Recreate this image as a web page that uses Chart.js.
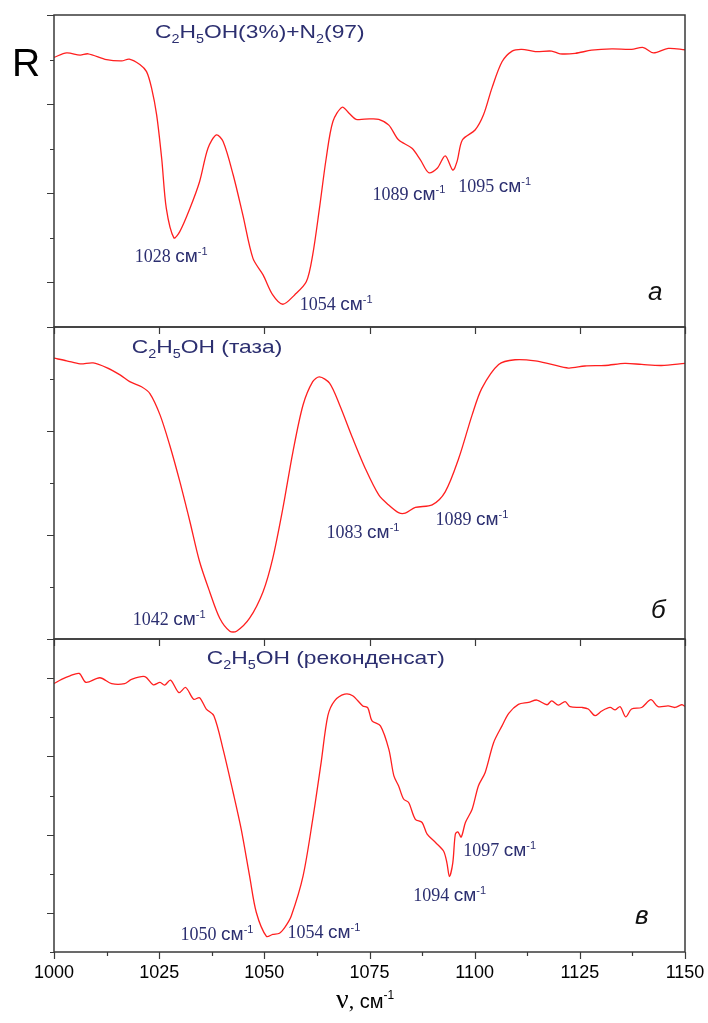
<!DOCTYPE html>
<html lang="ru">
<head>
    <meta charset="UTF-8">
    <title>R</title>
    <style>
        body { margin: 0; background: #fff; overflow: hidden; }
        #wrap { position: relative; width: 708px; height: 1023px; }
        #wrap canvas { position: absolute; left: 0; top: 0; }
        #rlab { position: absolute; left: 12px; top: 43px; font: 39px "Liberation Sans", Arial, sans-serif; line-height: 1; color: #000; }
    </style>
</head>
<body>
<div id="wrap">
    <canvas id="panelA" width="708" height="1023"></canvas>
    <canvas id="panelB" width="708" height="1023"></canvas>
    <canvas id="panelC" width="708" height="1023"></canvas>
    <div id="rlab">R</div>
</div>

<script src="https://cdn.jsdelivr.net/npm/chart.js"></script>
<script>
    // x ticks (cm-1)
    const xMin = 1000, xMax = 1150, xStep = 12.5;
    const xLabels = [1000, 1025, 1050, 1075, 1100, 1125, 1150];

    // panel a: C2H5OH(3%)+N2(97)
    const nuA = [1000, 1003.0, 1006.2, 1008.1, 1012.5, 1016.1, 1017.9, 1020.4, 1022.0, 1023.2, 1024.4, 1025.6, 1026.7, 1028.5, 1029.9,
        1032.3, 1034.6, 1036.6, 1038.6, 1040.2, 1042.6, 1044.9, 1047.3, 1049.7, 1052.0, 1054.4, 1057.2, 1060.0, 1061.5, 1063.1,
        1064.7, 1066.3, 1068.5, 1070.2, 1071.8, 1075.0, 1077.2, 1079.6, 1081.9, 1085.1, 1087.1, 1089.1, 1091.1, 1093.0, 1094.8,
        1095.8, 1097.1, 1100.1, 1102.1, 1104.1, 1106.5, 1108.9, 1111.2, 1114.4, 1118.3, 1120.3, 1123.9, 1127.8, 1132.6, 1137.3,
        1140.1, 1142.5, 1146.0, 1150];
    const rA = [6.05, 6.15, 6.10, 6.13, 6.00, 5.97, 6.01, 5.89, 5.73, 5.36, 4.76, 3.78, 2.66, 2.00, 2.14,
        2.66, 3.26, 4.01, 4.31, 4.16, 3.41, 2.51, 1.54, 1.17, 0.72, 0.51, 0.72, 1.02, 1.62, 2.66,
        3.78, 4.61, 4.93, 4.79, 4.66, 4.67, 4.66, 4.53, 4.20, 4.01, 3.75, 3.46, 3.56, 3.84, 3.52,
        3.71, 4.20, 4.42, 4.76, 5.36, 5.95, 6.19, 6.23, 6.18, 6.19, 6.13, 6.14, 6.21, 6.24, 6.23,
        6.27, 6.15, 6.25, 6.22];
    const peaksA = [[1019.2, 1.46, '1028'], [1058.4, 0.38, '1054'], [1075.7, 2.85, '1089'], [1096.1, 3.03, '1095']];

    // panel б: C2H5OH (таза)
    const nuB = [1000, 1003.0, 1006.2, 1009.3, 1012.5, 1015.7, 1018.0, 1020.8, 1022.8, 1025.2, 1027.5, 1029.9, 1032.3, 1034.6, 1037.0,
        1039.4, 1041.8, 1043.4, 1046.5, 1049.7, 1052.0, 1054.4, 1056.8, 1059.2, 1061.5, 1063.1, 1065.5, 1067.9, 1071.0, 1074.0,
        1077.2, 1079.5, 1081.9, 1083.5, 1085.9, 1089.9, 1093.0, 1096.2, 1099.4, 1101.7, 1105.7, 1109.6, 1114.4, 1118.3, 1122.3,
        1126.2, 1131.0, 1135.7, 1139.7, 1144.4, 1150];
    const rB = [5.40, 5.35, 5.29, 5.31, 5.22, 5.08, 4.95, 4.85, 4.72, 4.31, 3.73, 3.03, 2.26, 1.49, 0.91,
        0.40, 0.15, 0.15, 0.40, 0.91, 1.55, 2.51, 3.60, 4.50, 4.95, 5.04, 4.92, 4.50, 3.86, 3.28,
        2.77, 2.58, 2.43, 2.42, 2.53, 2.58, 2.83, 3.47, 4.31, 4.82, 5.28, 5.37, 5.35, 5.28, 5.21,
        5.25, 5.26, 5.30, 5.28, 5.26, 5.30];
    const peaksB = [[1018.7, 0.27, '1042'], [1064.8, 1.94, '1083'], [1090.7, 2.19, '1089']];

    // panel в: C2H5OH (реконденсат)
    const nuC = [1000, 1001.8, 1003.8, 1006.0, 1007.6, 1010.9, 1013.7, 1016.8, 1018.4, 1021.6, 1023.6, 1025.2, 1026.3, 1027.7, 1029.7,
        1031.3, 1033.2, 1034.6, 1036.2, 1038.0, 1040.2, 1042.6, 1044.5, 1046.5, 1048.1, 1050.5, 1052.0, 1053.6, 1055.0, 1056.4,
        1059.2, 1061.5, 1063.5, 1065.1, 1066.7, 1069.1, 1071.0, 1073.4, 1074.6, 1075.6, 1077.6, 1079.6, 1080.8, 1081.9, 1083.1,
        1084.3, 1085.9, 1087.5, 1088.7, 1090.7, 1092.6, 1093.4, 1094.0, 1094.8, 1095.4, 1096.0, 1096.8, 1097.8, 1099.4, 1100.9,
        1102.5, 1104.5, 1106.5, 1108.1, 1110.4, 1112.8, 1114.8, 1117.2, 1118.3, 1119.9, 1121.5, 1122.7, 1125.5, 1127.0, 1128.6,
        1130.2, 1132.2, 1133.4, 1134.6, 1135.9, 1137.3, 1139.7, 1141.9, 1143.6, 1146.0, 1147.6, 1149.2, 1150];
    const rC = [6.86, 6.97, 7.06, 7.12, 6.89, 7.01, 6.86, 6.86, 6.97, 7.04, 6.83, 6.89, 6.82, 6.95, 6.63,
        6.76, 6.46, 6.50, 6.21, 6.04, 5.18, 4.07, 3.14, 1.94, 1.01, 0.40, 0.45, 0.48, 0.65, 0.92,
        1.94, 3.39, 4.84, 6.04, 6.42, 6.59, 6.55, 6.29, 6.24, 5.91, 5.78, 5.18, 4.50, 4.25, 3.91,
        3.82, 3.39, 3.31, 3.01, 2.80, 2.58, 2.28, 1.93, 2.28, 3.01, 3.07, 2.94, 3.31, 3.65, 4.25,
        4.59, 5.35, 5.78, 6.10, 6.33, 6.38, 6.44, 6.32, 6.42, 6.31, 6.40, 6.27, 6.25, 6.21, 6.04,
        6.16, 6.25, 6.19, 6.27, 6.01, 6.21, 6.25, 6.45, 6.27, 6.29, 6.25, 6.32, 6.28];
    const peaksC = [[1030.1, 0.31, '1050'], [1055.5, 0.36, '1054'], [1085.4, 1.30, '1094'], [1097.3, 2.46, '1097']];

    const NAVY = '#2c2f70';
    const AXIS = '#3a3a3a';

    // draws several text pieces one after the other (for sub/superscripts)
    function drawRuns(ctx, x, y, runs, sx) {
        ctx.save();
        ctx.translate(x, y);
        ctx.scale(sx || 1, 1);
        ctx.textBaseline = 'alphabetic';
        ctx.textAlign = 'left';
        let cx = 0;
        for (const r of runs) {
            ctx.font = r.f;
            ctx.fillText(r.t, cx, r.dy || 0);
            cx += ctx.measureText(r.t).width;
        }
        ctx.restore();
    }

    const CAP = '19px "Liberation Sans"', SUB = '12px "Liberation Sans"';
    function caption(parts) {
        // strings in [] become subscripts
        return parts.map(p => Array.isArray(p) ? { t: p[0], f: SUB, dy: 5 } : { t: p, f: CAP });
    }
    function waveRuns(num) {
        return [
            { t: num + ' ', f: '18px "Liberation Serif"' },
            { t: 'см', f: '19px "Liberation Sans"' },
            { t: '-1', f: '11px "Liberation Sans"', dy: -7 }
        ];
    }

    function framePlugin(cfg) {
        return {
            id: 'frame',
            afterDraw(chart) {
                const ctx = chart.ctx, a = chart.chartArea;
                const xs = chart.scales.x, ys = chart.scales.y;
                ctx.save();
                ctx.strokeStyle = AXIS;
                ctx.lineWidth = 1.5;
                ctx.strokeRect(a.left, a.top, a.right - a.left, a.bottom - a.top);
                // y ticks, outward
                ctx.lineWidth = 1.2;
                ctx.beginPath();
                for (let v = 0; v <= cfg.ymax; v++) {
                    const py = Math.round(ys.getPixelForValue(v)) + 0.5;
                    const len = (v % 2 === cfg.majorParity) ? 7 : 4;
                    ctx.moveTo(a.left - len, py);
                    ctx.lineTo(a.left, py);
                }
                // x ticks, outward
                for (let v = xMin; v <= xMax; v += xStep) {
                    const major = v % 25 === 0;
                    if (!major && !cfg.minorX) continue;
                    const px = Math.round(xs.getPixelForValue(v)) + 0.5;
                    ctx.moveTo(px, a.bottom);
                    ctx.lineTo(px, a.bottom + (major ? 7 : 4));
                }
                ctx.stroke();

                // caption
                ctx.fillStyle = NAVY;
                drawRuns(ctx, xs.getPixelForValue(cfg.title[0]), ys.getPixelForValue(cfg.title[1]), caption(cfg.title[2]), 1.2);
                // peak labels
                for (const p of cfg.peaks) {
                    drawRuns(ctx, xs.getPixelForValue(p[0]), ys.getPixelForValue(p[1]), waveRuns(p[2]));
                }
                // panel letter
                ctx.fillStyle = '#111';
                drawRuns(ctx, xs.getPixelForValue(cfg.letter[0]), ys.getPixelForValue(cfg.letter[1]),
                    [{ t: cfg.letter[2], f: 'italic 26px "Liberation Sans"' }]);

                if (cfg.axisTitle) {
                    // tick labels of the shared x axis
                    ctx.fillStyle = '#000';
                    ctx.font = '18px "Liberation Sans"';
                    ctx.textAlign = 'center';
                    ctx.textBaseline = 'alphabetic';
                    for (const v of xLabels) {
                        ctx.fillText(String(v), xs.getPixelForValue(v), a.bottom + 26);
                    }
                    drawRuns(ctx, 336, 1008, [
                        { t: 'ν', f: '28px "Liberation Serif"' },
                        { t: ', ', f: '22px "Liberation Serif"' },
                        { t: 'см', f: '20px "Liberation Sans"' },
                        { t: '-1', f: '12px "Liberation Sans"', dy: -9 }
                    ]);
                }
                ctx.restore();
            }
        };
    }

    function makePanel(id, nu, r, cfg) {
        return new Chart(document.getElementById(id), {
            type: 'line',
            data: {
                datasets: [{
                    data: nu.map((x, i) => ({ x: x, y: r[i] })),
                    borderColor: '#ff1f1f',
                    borderWidth: 1.3,
                    pointRadius: 0,
                    tension: cfg.tension,
                    fill: false
                }]
            },
            options: {
                responsive: false,
                animation: false,
                devicePixelRatio: 1,
                layout: { padding: cfg.padding },
                plugins: { legend: { display: false }, tooltip: { enabled: false } },
                scales: {
                    x: { type: 'linear', min: xMin, max: xMax, display: false },
                    y: { min: 0, max: cfg.ymax, display: false }
                }
            },
            plugins: [framePlugin(cfg)]
        });
    }

    makePanel('panelA', nuA, rA, {
        ymax: 7, majorParity: 1, minorX: false, tension: 0.3,
        padding: { top: 15, left: 54, right: 23, bottom: 696 },
        title: [1024.0, 6.48, ['C', ['2'], 'H', ['5'], 'OH(3%)+N', ['2'], '(97)']],
        peaks: peaksA,
        letter: [1141.2, 0.61, 'а']
    });
    makePanel('panelB', nuB, rB, {
        ymax: 6, majorParity: 0, minorX: false, tension: 0.3,
        padding: { top: 327, left: 54, right: 23, bottom: 384 },
        title: [1018.5, 5.50, ['C', ['2'], 'H', ['5'], 'OH (таза)']],
        peaks: peaksB,
        letter: [1141.9, 0.40, 'б']
    });
    makePanel('panelC', nuC, rC, {
        ymax: 8, majorParity: 1, minorX: true, tension: 0.3,
        padding: { top: 639, left: 54, right: 23, bottom: 71 },
        title: [1036.3, 7.37, ['C', ['2'], 'H', ['5'], 'OH (реконденсат)']],
        peaks: peaksC,
        letter: [1138.1, 0.72, 'в'],
        axisTitle: true
    });
</script>
</body>
</html>
